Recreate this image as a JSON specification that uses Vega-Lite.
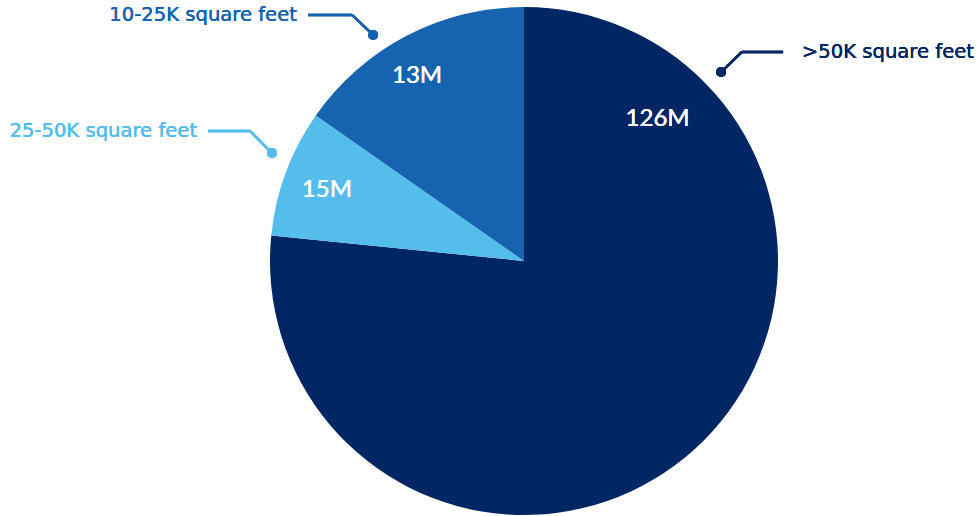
{
  "$schema": "https://vega.github.io/schema/vega-lite/v6.json",
  "width": 977,
  "height": 516,
  "padding": 0,
  "autosize": "none",
  "background": "white",
  "config": {"view": {"stroke": null}, "axis": {"disable": true}},
  "data": {"values": [
    {"segment": ">50K square feet", "share": 76.6, "label": "126M"},
    {"segment": "25-50K square feet", "share": 8.1, "label": "15M"},
    {"segment": "10-25K square feet", "share": 15.3, "label": "13M"}
  ]},
  "layer": [
    {
      "mark": {"type": "arc", "radius": 254},
      "encoding": {
        "x": {"datum": 0, "type": "quantitative", "scale": {"domain": [-2.063, 1.7835], "nice": false, "zero": false}, "axis": null},
        "y": {"datum": 0, "type": "quantitative", "scale": {"domain": [-1.0039, 1.0276], "nice": false, "zero": false}, "axis": null},
        "theta": {"field": "share", "type": "quantitative", "stack": true},
        "order": {"field": "segment", "sort": "descending"},
        "color": {"field": "segment", "type": "nominal", "legend": null,
          "scale": {"domain": [">50K square feet", "25-50K square feet", "10-25K square feet"], "range": ["#002663", "#55bdeb", "#1664b0"]}}
      }
    },
    {"mark": {"type": "text", "color": "white", "fontSize": 24, "font": "Lato", "fontWeight": "normal", "align": "center", "baseline": "middle"},
     "encoding": {"x": {"datum": 0.526, "type": "quantitative"}, "y": {"datum": 0.561, "type": "quantitative"}, "text": {"value": "126M"}}},
    {"mark": {"type": "text", "color": "white", "fontSize": 24, "font": "Lato", "fontWeight": "normal", "align": "center", "baseline": "middle"},
     "encoding": {"x": {"datum": -0.776, "type": "quantitative"}, "y": {"datum": 0.28, "type": "quantitative"}, "text": {"value": "15M"}}},
    {"mark": {"type": "text", "color": "white", "fontSize": 24, "font": "Lato", "fontWeight": "normal", "align": "center", "baseline": "middle"},
     "encoding": {"x": {"datum": -0.421, "type": "quantitative"}, "y": {"datum": 0.73, "type": "quantitative"}, "text": {"value": "13M"}}},

    {"mark": {"type": "text", "color": "#1664b0", "fontSize": 19.6, "font": "DejaVu Sans", "fontWeight": "normal", "align": "right", "baseline": "middle"},
     "encoding": {"x": {"datum": -0.894, "type": "quantitative"}, "y": {"datum": 0.969, "type": "quantitative"}, "text": {"value": "10-25K square feet"}}},
    {"mark": {"type": "rule", "color": "#1664b0", "strokeWidth": 2.5},
     "encoding": {"x": {"datum": -0.85, "type": "quantitative"}, "y": {"datum": 0.969, "type": "quantitative"}, "x2": {"datum": -0.677}, "y2": {"datum": 0.969}}},
    {"mark": {"type": "rule", "color": "#1664b0", "strokeWidth": 2.5},
     "encoding": {"x": {"datum": -0.677, "type": "quantitative"}, "y": {"datum": 0.969, "type": "quantitative"}, "x2": {"datum": -0.594}, "y2": {"datum": 0.89}}},
    {"mark": {"type": "point", "filled": true, "opacity": 1, "color": "#1664b0", "size": 100},
     "encoding": {"x": {"datum": -0.594, "type": "quantitative"}, "y": {"datum": 0.89, "type": "quantitative"}}},

    {"mark": {"type": "text", "color": "#002663", "fontSize": 19.6, "font": "DejaVu Sans", "fontWeight": "normal", "align": "left", "baseline": "middle"},
     "encoding": {"x": {"datum": 1.094, "type": "quantitative"}, "y": {"datum": 0.823, "type": "quantitative"}, "text": {"value": ">50K square feet"}}},
    {"mark": {"type": "rule", "color": "#002663", "strokeWidth": 2.5},
     "encoding": {"x": {"datum": 1.02, "type": "quantitative"}, "y": {"datum": 0.823, "type": "quantitative"}, "x2": {"datum": 0.858}, "y2": {"datum": 0.823}}},
    {"mark": {"type": "rule", "color": "#002663", "strokeWidth": 2.5},
     "encoding": {"x": {"datum": 0.858, "type": "quantitative"}, "y": {"datum": 0.823, "type": "quantitative"}, "x2": {"datum": 0.776}, "y2": {"datum": 0.744}}},
    {"mark": {"type": "point", "filled": true, "opacity": 1, "color": "#002663", "size": 100},
     "encoding": {"x": {"datum": 0.776, "type": "quantitative"}, "y": {"datum": 0.744, "type": "quantitative"}}},

    {"mark": {"type": "text", "color": "#55bdeb", "fontSize": 19.6, "font": "DejaVu Sans", "fontWeight": "normal", "align": "right", "baseline": "middle"},
     "encoding": {"x": {"datum": -1.287, "type": "quantitative"}, "y": {"datum": 0.512, "type": "quantitative"}, "text": {"value": "25-50K square feet"}}},
    {"mark": {"type": "rule", "color": "#55bdeb", "strokeWidth": 2.5},
     "encoding": {"x": {"datum": -1.244, "type": "quantitative"}, "y": {"datum": 0.512, "type": "quantitative"}, "x2": {"datum": -1.079}, "y2": {"datum": 0.512}}},
    {"mark": {"type": "rule", "color": "#55bdeb", "strokeWidth": 2.5},
     "encoding": {"x": {"datum": -1.079, "type": "quantitative"}, "y": {"datum": 0.512, "type": "quantitative"}, "x2": {"datum": -0.992}, "y2": {"datum": 0.425}}},
    {"mark": {"type": "point", "filled": true, "opacity": 1, "color": "#55bdeb", "size": 100},
     "encoding": {"x": {"datum": -0.992, "type": "quantitative"}, "y": {"datum": 0.425, "type": "quantitative"}}}
  ]
}
